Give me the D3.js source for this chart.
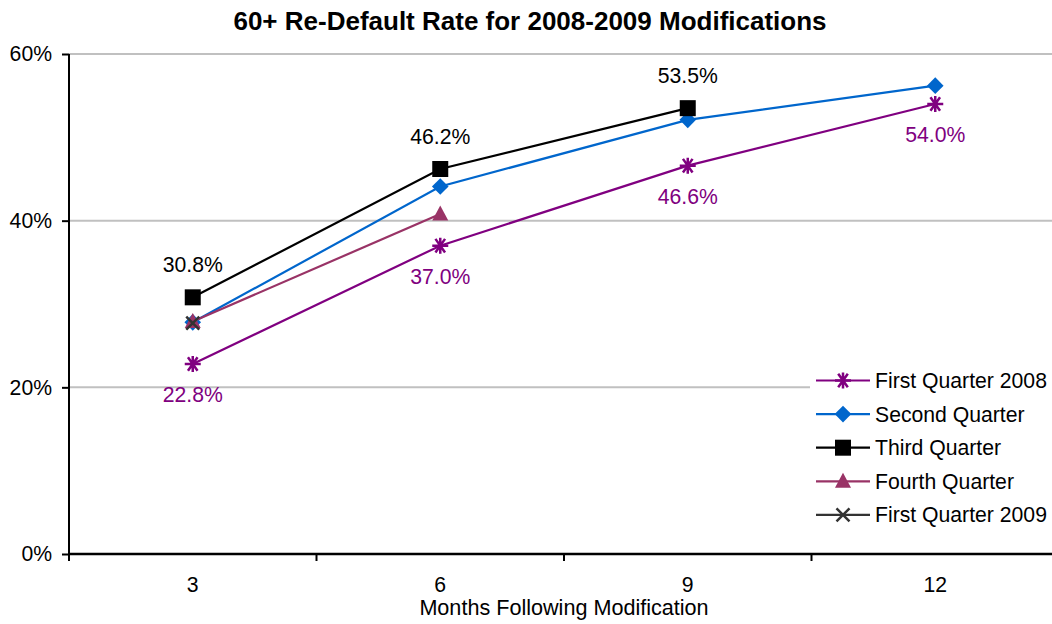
<!DOCTYPE html>
<meta charset="utf-8">
<style>
body { margin: 0; background: white; }
svg { font-family: "Liberation Sans", Arial, sans-serif; }
</style>
<svg width="1052" height="624"></svg>
<script src="https://d3js.org/d3.v7.min.js"></script>
<script>

var months = ["3", "6", "9", "12"];
var yTicks = [0, 20, 40, 60];

var firstQ2008 = [22.8, 37.0, 46.6, 54.0];
var secondQ = [27.8, 44.1, 52.1, 56.2];
var thirdQ = [30.8, 46.2, 53.5, null];
var fourthQ = [27.9, 40.8, null, null];
var firstQ2009 = [27.7, null, null, null];

var names = ["First Quarter 2008", "Second Quarter", "Third Quarter", "Fourth Quarter", "First Quarter 2009"];
var colors = ["#800080", "#0066cc", "#000000", "#993366", "#333333"];
var symbols = ["star", "diamond", "square", "triangle", "cross"];

var series = [firstQ2008, secondQ, thirdQ, fourthQ, firstQ2009].map(function(v, i) {
    return { name: names[i], color: colors[i], symbol: symbols[i], values: v };
});

var svg = d3.select("svg");
var fs = 21.2;

var margin = { left: 69, top: 54, bottom: 554 };
var x = d3.scaleBand().domain(months).range([margin.left, margin.left + 4 * 247.5]);
var y = d3.scaleLinear().domain([0, 60]).range([margin.bottom, margin.top]);

// gridlines
svg.append("g").selectAll("line")
    .data(yTicks.filter(function(d) { return d > 0; }))
    .enter().append("line")
    .attr("x1", margin.left).attr("x2", 1052)
    .attr("y1", function(d) { return y(d); })
    .attr("y2", function(d) { return y(d); })
    .attr("stroke", "#c0c0c0").attr("stroke-width", 2);

// axes
var yAxis = svg.append("g")
    .attr("transform", "translate(" + margin.left + ",0)")
    .call(d3.axisLeft(y).tickValues(yTicks).tickSize(7).tickPadding(10)
        .tickFormat(function(d) { return d + "%"; }));
yAxis.select(".domain").attr("stroke-width", 2).attr("d", "M0," + y(0) + "V" + y(60));
yAxis.selectAll(".tick line").attr("stroke-width", 2);
yAxis.selectAll("text").attr("font-size", fs).attr("fill", "#000").attr("font-family", "Liberation Sans, Arial");

var xAxis = svg.append("g")
    .attr("transform", "translate(0," + y(0) + ")");
xAxis.append("line")
    .attr("x1", margin.left).attr("x2", 1052)
    .attr("stroke", "#000").attr("stroke-width", 2.5);
xAxis.selectAll(".xt")
    .data(d3.range(0, 4))
    .enter().append("line")
    .attr("x1", function(i) { return margin.left + i * x.bandwidth(); })
    .attr("x2", function(i) { return margin.left + i * x.bandwidth(); })
    .attr("y1", 0).attr("y2", 7)
    .attr("stroke", "#000").attr("stroke-width", 2);
xAxis.selectAll("text")
    .data(months)
    .enter().append("text")
    .attr("x", function(d) { return x(d) + x.bandwidth() / 2; })
    .attr("y", 38)
    .attr("text-anchor", "middle")
    .attr("font-size", fs)
    .text(function(d) { return d; });

svg.append("text")
    .attr("x", 564).attr("y", 615)
    .attr("text-anchor", "middle")
    .attr("font-size", 21.6)
    .text("Months Following Modification");

svg.append("text")
    .attr("x", 530).attr("y", 30)
    .attr("text-anchor", "middle")
    .attr("font-size", 26)
    .attr("font-weight", "bold")
    .text("60+ Re-Default Rate for 2008-2009 Modifications");

function cx(i) { return x(months[i]) + x.bandwidth() / 2; }

function drawMarker(g, s, px, py) {
    if (s.symbol === "star") {
        var r = 8;
        g.append("path")
            .attr("d", "M" + (px - r) + "," + py + "H" + (px + r) +
                "M" + (px - r * 0.6) + "," + (py - r * 0.85) + "L" + (px + r * 0.6) + "," + (py + r * 0.85) +
                "M" + (px + r * 0.6) + "," + (py - r * 0.85) + "L" + (px - r * 0.6) + "," + (py + r * 0.85) +
                "M" + px + "," + (py - r) + "V" + (py + r))
            .attr("stroke", s.color).attr("stroke-width", 2.5).attr("fill", "none");
    } else if (s.symbol === "cross") {
        var c = 6.5;
        g.append("path")
            .attr("d", "M" + (px - c) + "," + (py - c) + "L" + (px + c) + "," + (py + c) +
                "M" + (px + c) + "," + (py - c) + "L" + (px - c) + "," + (py + c))
            .attr("stroke", s.color).attr("stroke-width", 2.5).attr("fill", "none");
    } else if (s.symbol === "diamond") {
        var d = 8.3;
        g.append("path")
            .attr("d", "M" + px + "," + (py - d) + "L" + (px + d) + "," + py + "L" + px + "," + (py + d) + "L" + (px - d) + "," + py + "Z")
            .attr("fill", s.color);
    } else if (s.symbol === "square") {
        g.append("rect")
            .attr("x", px - 8).attr("y", py - 8).attr("width", 16).attr("height", 16)
            .attr("fill", s.color);
    } else if (s.symbol === "triangle") {
        g.append("path")
            .attr("d", "M" + px + "," + (py - 8.5) + "L" + (px + 8) + "," + (py + 6.5) + "L" + (px - 8) + "," + (py + 6.5) + "Z")
            .attr("fill", s.color);
    }
}

var line = d3.line()
    .defined(function(d) { return d != null; })
    .x(function(d, i) { return cx(i); })
    .y(function(d) { return y(d); });

// draw in order so later series sit on top at month 3
series.forEach(function(s) {
    var g = svg.append("g");
    g.append("path")
        .datum(s.values)
        .attr("d", line)
        .attr("fill", "none")
        .attr("stroke", s.color)
        .attr("stroke-width", 2.2);
    s.values.forEach(function(v, i) {
        if (v != null) drawMarker(g, s, cx(i), y(v));
    });
});

// data labels
var labelG = svg.append("g").attr("font-size", fs).attr("text-anchor", "middle");
thirdQ.forEach(function(v, i) {
    if (v == null) return;
    labelG.append("text").attr("x", cx(i)).attr("y", y(v) - 25)
        .attr("fill", "#000").text(v.toFixed(1) + "%");
});
firstQ2008.forEach(function(v, i) {
    labelG.append("text").attr("x", cx(i)).attr("y", y(v) + 38)
        .attr("fill", "#800080").text(v.toFixed(1) + "%");
});

// legend
var leg = svg.append("g").attr("transform", "translate(810,364)");
leg.append("rect").attr("width", 242).attr("height", 170).attr("fill", "white");
series.forEach(function(s, i) {
    var ly = 16.5 + i * 33.6;
    var g = leg.append("g");
    g.append("line").attr("x1", 6).attr("x2", 60).attr("y1", ly).attr("y2", ly)
        .attr("stroke", s.color).attr("stroke-width", 2.2);
    drawMarker(g, s, 33, ly);
    g.append("text").attr("x", 65).attr("y", ly + 7.5)
        .attr("font-size", fs).text(s.name);
});

</script>
